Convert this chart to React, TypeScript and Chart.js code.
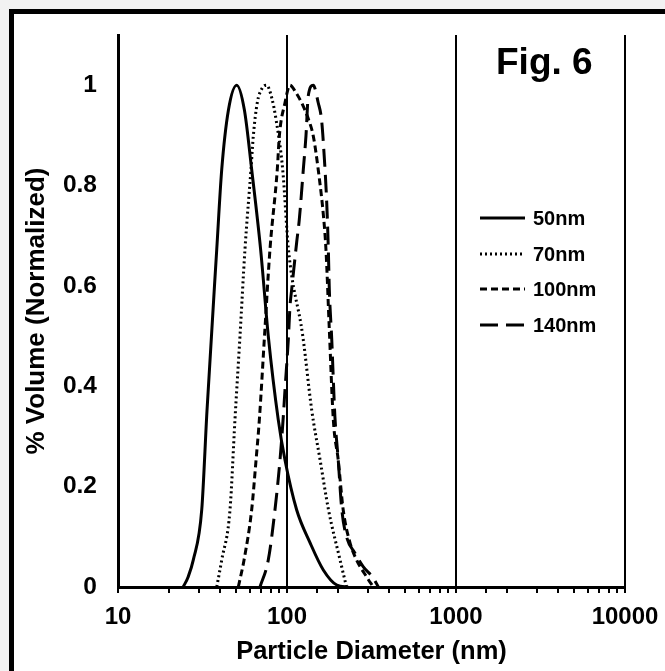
import React, { useEffect, useRef } from 'react';
import { Chart, registerables } from 'chart.js';

Chart.register(...registerables);

const FONT = '"Liberation Sans", Arial, Helvetica, sans-serif';

const seriesNames = ['50nm', '70nm', '100nm', '140nm'];

const x50 = [24.3, 26, 27.9, 31.3, 33.6, 38.4, 41.1, 45, 50.4, 56, 61.8, 69.8, 77.5, 88.8, 97.3, 114, 137, 164, 197, 230];
const y50 = [0, 0.02, 0.054, 0.154, 0.35, 0.673, 0.832, 0.95, 1.0, 0.95, 0.832, 0.673, 0.5, 0.333, 0.253, 0.154, 0.088, 0.034, 0.004, 0];

const x70 = [38.4, 41.1, 46, 49.2, 52.7, 56.4, 61.2, 63.2, 66.7, 71, 75.8, 81.2, 86.1, 94.3, 102, 124, 140, 157, 176, 206, 225];
const y70 = [0, 0.054, 0.154, 0.333, 0.5, 0.673, 0.832, 0.899, 0.965, 0.993, 1.0, 0.975, 0.932, 0.832, 0.673, 0.5, 0.353, 0.253, 0.154, 0.054, 0];

const x100 = [51.5, 55.7, 61.8, 65.6, 68.6, 74, 79.3, 87.6, 90.1, 97.3, 104, 113, 122, 134, 143, 153, 165, 170, 178, 188, 201, 215, 236, 258, 296, 324];
const y100 = [0, 0.054, 0.154, 0.253, 0.333, 0.513, 0.673, 0.832, 0.899, 0.965, 1.0, 0.985, 0.965, 0.932, 0.899, 0.832, 0.733, 0.673, 0.513, 0.333, 0.253, 0.154, 0.088, 0.054, 0.02, 0];

const x140 = [69.2, 77.5, 84.9, 90.9, 95.1, 97.3, 101.8, 104.2, 106.6, 114.1, 118.3, 124.9, 129.5, 133.6, 143, 153, 160, 165.5, 171.8, 175.6, 178, 184, 189, 192, 201, 211, 225, 252, 283, 324, 347];
const y140 = [0, 0.054, 0.154, 0.253, 0.34, 0.393, 0.493, 0.56, 0.593, 0.687, 0.733, 0.832, 0.899, 0.979, 1.0, 0.965, 0.932, 0.866, 0.766, 0.673, 0.593, 0.493, 0.393, 0.34, 0.253, 0.154, 0.1, 0.068, 0.04, 0.018, 0];

const xLabelValues = [10, 100, 1000, 10000];
const yTickValues = [0, 0.2, 0.4, 0.6, 0.8, 1];
const yTickLabels = ['0', '0.2', '0.4', '0.6', '0.8', '1'];

const seriesX = [x50, x70, x100, x140];
const seriesY = [y50, y70, y100, y140];
const seriesDash = [[], [2, 3], [7, 4], [18, 8]];

const isMajor = (v: number) => xLabelValues.some((m) => Math.abs(v - m) < 1e-6 * m);

const legendPlugin = {
  id: 'customLegend',
  afterDraw(chart: any) {
    const ctx = chart.ctx;
    const rows = [218, 254, 289, 325];
    chart.data.datasets.forEach((ds: any, i: number) => {
      const y = rows[i];
      ctx.save();
      ctx.strokeStyle = '#000';
      ctx.lineWidth = ds.borderWidth;
      ctx.lineCap = 'butt';
      ctx.setLineDash(ds.borderDash || []);
      ctx.beginPath();
      ctx.moveTo(480, y);
      ctx.lineTo(525, y);
      ctx.stroke();
      ctx.setLineDash([]);
      ctx.fillStyle = '#000';
      ctx.font = `bold 20px ${FONT}`;
      ctx.textBaseline = 'middle';
      ctx.textAlign = 'left';
      ctx.fillText(ds.label, 533, y + 1);
      ctx.restore();
    });
  },
};

export default function App() {
  const ref = useRef<HTMLCanvasElement>(null);

  useEffect(() => {
    if (!ref.current) return;
    const chart = new Chart(ref.current, {
      type: 'line',
      data: {
        datasets: seriesNames.map((name, i) => ({
          label: name,
          data: seriesX[i].map((x, j) => ({ x, y: seriesY[i][j] })),
          borderColor: '#000',
          borderWidth: 3,
          borderDash: seriesDash[i],
          borderCapStyle: 'butt',
          pointRadius: 0,
          fill: false,
          cubicInterpolationMode: 'monotone',
        })),
      },
      options: {
        responsive: false,
        animation: false,
        layout: { padding: { left: 0, right: 40, top: 35, bottom: 0 } },
        plugins: { legend: { display: false }, tooltip: { enabled: false } },
        scales: {
          x: {
            type: 'logarithmic',
            min: 10,
            max: 10000,
            afterFit: (s: any) => {
              s.height = 84;
              s.paddingLeft = 0;
              s.paddingRight = 0;
            },
            border: { display: true, color: '#000', width: 3 },
            grid: {
              color: (c: any) => (c.tick && isMajor(c.tick.value) ? '#000' : 'rgba(0,0,0,0)'),
              lineWidth: 2,
              drawTicks: true,
              tickLength: 6,
              tickColor: '#000',
              tickWidth: 2,
            },
            ticks: {
              autoSkip: false,
              maxRotation: 0,
              minRotation: 0,
              padding: 10,
              color: '#000',
              font: { family: FONT, size: 24, weight: 'bold' },
              callback: (v: any) => (isMajor(Number(v)) ? String(Math.round(Number(v))) : ''),
            },
            title: {
              display: true,
              text: 'Particle Diameter (nm)',
              color: '#000',
              font: { family: FONT, size: 25.5, weight: 'bold' },
              padding: { top: 0, bottom: 4 },
            },
          },
          y: {
            min: 0,
            max: 1.1,
            afterFit: (s: any) => {
              s.width = 118;
              s.paddingTop = 0;
              s.paddingBottom = 0;
            },
            afterBuildTicks: (s: any) => {
              s.ticks = yTickValues.map((v) => ({ value: v }));
            },
            border: { display: true, color: '#000', width: 3 },
            grid: { display: false, drawTicks: false },
            ticks: {
              padding: 21,
              color: '#000',
              font: { family: FONT, size: 24.5, weight: 'bold' },
              callback: (_v: any, i: number) => yTickLabels[i],
            },
            title: {
              display: true,
              text: '% Volume (Normalized)',
              color: '#000',
              font: { family: FONT, size: 26, weight: 'bold' },
              padding: { top: 21, bottom: 0 },
            },
          },
        },
      },
      plugins: [legendPlugin],
    } as any);
    return () => chart.destroy();
  }, []);

  return (
    <div style={{ position: 'fixed', left: 0, top: 0, width: 665, height: 671, background: '#f2f2f2', overflow: 'hidden' }}>
      <div
        style={{
          position: 'absolute',
          left: 9,
          top: 9,
          right: 0,
          bottom: 0,
          borderLeft: '5px solid #000',
          borderTop: '5px solid #000',
          background: '#fff',
        }}
      />
      <canvas ref={ref} width={665} height={671} style={{ position: 'absolute', left: 0, top: 0, width: 665, height: 671 }} />
      <div
        style={{
          position: 'absolute',
          left: 496,
          top: 43,
          font: `bold 37px ${FONT}`,
          lineHeight: '37px',
          color: '#000',
          whiteSpace: 'nowrap',
        }}
      >
        Fig. 6
      </div>
    </div>
  );
}
